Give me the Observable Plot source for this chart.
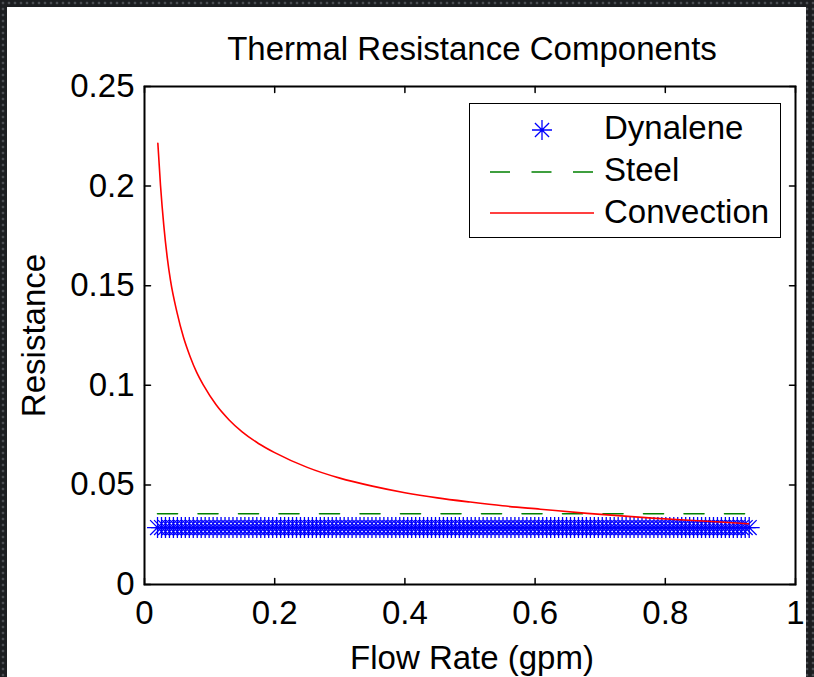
<!DOCTYPE html>
<html>
<head>
<meta charset="utf-8">
<script src="https://cdn.jsdelivr.net/npm/d3@7"></script>
<script src="https://cdn.jsdelivr.net/npm/@observablehq/plot@0.6"></script>
<style>
  html, body { margin: 0; padding: 0; }
  body {
    width: 814px; height: 677px; overflow: hidden;
    background-color: #1c1e21;
    background-image: radial-gradient(circle, #4b4e53 1.1px, transparent 1.7px);
    background-size: 6px 6px;
    font-family: "Liberation Sans", Arial, Helvetica, sans-serif;
  }
  #panel { position: absolute; left: 7px; top: 7px; width: 799px; height: 670px; background: #ffffff; }
  #chart { position: absolute; left: 0; top: 0; }
  #legend { position: absolute; left: 469px; top: 103px; width: 310px; height: 133px;
            border: 1.5px solid #000; background: #fff; }
</style>
</head>
<body>
<div id="panel"></div>
<div id="chart"></div>
<div id="legend"></div>
<script>
// ---- data ----
const titleText = "Thermal Resistance Components";
const xLabelText = "Flow Rate (gpm)";
const yLabelText = "Resistance";
const seriesNames = ["Dynalene", "Steel", "Convection"];

const xTicks = [0, 0.2, 0.4, 0.6, 0.8, 1];
const xTickLabels = ["0", "0.2", "0.4", "0.6", "0.8", "1"];
const yTicks = [0, 0.05, 0.1, 0.15, 0.2, 0.25];
const yTickLabels = ["0", "0.05", "0.1", "0.15", "0.2", "0.25"];

// flow rates of the Dynalene markers (gpm)
const flowRate = [
  0.0200,0.0261,0.0322,0.0383,0.0444,0.0505,0.0566,0.0627,0.0688,0.0749,
  0.0810,0.0871,0.0932,0.0993,0.1054,0.1115,0.1176,0.1237,0.1298,0.1359,
  0.1420,0.1481,0.1542,0.1603,0.1664,0.1725,0.1786,0.1847,0.1908,0.1969,
  0.2030,0.2091,0.2152,0.2213,0.2274,0.2335,0.2396,0.2457,0.2518,0.2579,
  0.2640,0.2701,0.2762,0.2823,0.2884,0.2945,0.3006,0.3067,0.3128,0.3189,
  0.3250,0.3311,0.3372,0.3433,0.3494,0.3555,0.3616,0.3677,0.3738,0.3799,
  0.3860,0.3921,0.3982,0.4043,0.4104,0.4165,0.4226,0.4287,0.4348,0.4409,
  0.4470,0.4531,0.4592,0.4653,0.4714,0.4775,0.4836,0.4897,0.4958,0.5019,
  0.5080,0.5141,0.5202,0.5263,0.5324,0.5385,0.5446,0.5507,0.5568,0.5629,
  0.5690,0.5751,0.5812,0.5873,0.5934,0.5995,0.6056,0.6117,0.6178,0.6239,
  0.6300,0.6361,0.6422,0.6483,0.6544,0.6605,0.6666,0.6727,0.6788,0.6849,
  0.6910,0.6971,0.7032,0.7093,0.7154,0.7215,0.7276,0.7337,0.7398,0.7459,
  0.7520,0.7581,0.7642,0.7703,0.7764,0.7825,0.7886,0.7947,0.8008,0.8069,
  0.8130,0.8191,0.8252,0.8313,0.8374,0.8435,0.8496,0.8557,0.8618,0.8679,
  0.8740,0.8801,0.8862,0.8923,0.8984,0.9045,0.9106,0.9167,0.9228,0.9289
];
const dynaleneResistance = 0.0286;   // constant
const steelResistance = 0.0355;      // constant

// convection resistance curve (read points)
const convectionFlow = [0.0205,0.0246,0.0297,0.0350,0.0400,0.0500,0.0600,0.0700,0.0800,0.0910,
                        0.1100,0.1300,0.1500,0.1750,0.2000,0.2500,0.3000,0.3500,0.4000,0.4500,
                        0.5000,0.5500,0.6080,0.6800,0.7800,0.8850,0.9280];
const convectionR    = [0.2215,0.2003,0.1800,0.1640,0.1525,0.1365,0.1240,0.1145,0.1066,0.0998,
                        0.0902,0.0826,0.0766,0.0708,0.0662,0.0588,0.0534,0.0494,0.0461,0.0435,
                        0.0414,0.0395,0.0378,0.0357,0.0333,0.0314,0.0305];

// ---- tables built from the arrays ----
const dynalene = flowRate.map(f => ({flow: f, R: dynaleneResistance}));
const steel = flowRate.map(f => ({flow: f, R: steelResistance}));
const convection = convectionFlow.map((f, i) => ({flow: f, R: convectionR[i]}));

// MATLAB-like asterisk (plus + x)
const asterisk = {
  draw(context, size) {
    const r = Math.sqrt(size / Math.PI);
    const d = r * Math.SQRT1_2;
    context.moveTo(0, -r); context.lineTo(0, r);
    context.moveTo(-r, 0); context.lineTo(r, 0);
    context.moveTo(-d, -d); context.lineTo(d, d);
    context.moveTo(-d, d); context.lineTo(d, -d);
  }
};
const tickShape = { draw(context, l) { context.moveTo(0, 0); context.lineTo(0, -l); } };

const font = "Liberation Sans, Arial, Helvetica, sans-serif";

const chart = Plot.plot({
  width: 814,
  height: 677,
  marginLeft: 144,
  marginRight: 19,
  marginTop: 86,
  marginBottom: 93,
  style: {background: "transparent", fontFamily: font, fontSize: "33px", color: "#000", overflow: "visible"},
  x: {domain: [0, 1]},
  y: {domain: [0, 0.25]},
  marks: [
    Plot.dot(dynalene, {x: "flow", y: "R", r: 10.5, symbol: asterisk, stroke: "#0000ff", strokeWidth: 1.3, fill: "none"}),
    Plot.line(steel, {x: "flow", y: "R", stroke: "#008000", strokeWidth: 1.6, strokeDasharray: "20,20.5"}),
    Plot.line(convection, {x: "flow", y: "R", stroke: "#ff0000", strokeWidth: 1.6, curve: "monotone-x"}),
    Plot.frame({stroke: "#000", strokeWidth: 2}),
    Plot.vector(xTicks, {x: d => d, frameAnchor: "bottom", length: 6, rotate: 0, anchor: "start", shape: tickShape, stroke: "#000", strokeWidth: 1.5}),
    Plot.vector(xTicks, {x: d => d, frameAnchor: "top", length: 6, rotate: 180, anchor: "start", shape: tickShape, stroke: "#000", strokeWidth: 1.5}),
    Plot.vector(yTicks, {y: d => d, frameAnchor: "left", length: 6, rotate: 90, anchor: "start", shape: tickShape, stroke: "#000", strokeWidth: 1.5}),
    Plot.vector(yTicks, {y: d => d, frameAnchor: "right", length: 6, rotate: -90, anchor: "start", shape: tickShape, stroke: "#000", strokeWidth: 1.5}),
    Plot.axisX(xTicks, {tickSize: 0, tickPadding: 16, tickFormat: d => xTickLabels[xTicks.indexOf(d)], fontSize: 33, label: null, fill: "#000"}),
    Plot.axisY(yTicks, {tickSize: 0, tickPadding: 10, tickFormat: d => yTickLabels[yTicks.indexOf(d)], fontSize: 33, label: null, fill: "#000"}),
    Plot.text([titleText], {text: d => d, frameAnchor: "top", lineAnchor: "middle", textAnchor: "middle", dx: 2, dy: -36.6, fontSize: 33, fill: "#000"}),
    Plot.text([xLabelText], {text: d => d, frameAnchor: "bottom", lineAnchor: "middle", textAnchor: "middle", dx: 2, dy: 74.4, fontSize: 33, fill: "#000"}),
    Plot.text([yLabelText], {text: d => d, frameAnchor: "left", lineAnchor: "middle", textAnchor: "middle", dx: -110, rotate: -90, fontSize: 33, fill: "#000"})
  ]
});
document.getElementById("chart").appendChild(chart);

// ---- legend (inside the axes, as in the reference) ----
const ns = "http://www.w3.org/2000/svg";
const lsvg = document.createElementNS(ns, "svg");
lsvg.setAttribute("width", 310); lsvg.setAttribute("height", 133);
lsvg.style.position = "absolute"; lsvg.style.left = "0"; lsvg.style.top = "0";
const ls = d3.select(lsvg);
const rowY = [26, 68, 109];
const baseY = [35, 77, 119];
// Dynalene star
const p = d3.path(); asterisk.draw(p, Math.PI * 10 * 10);
ls.append("path").attr("d", p.toString()).attr("transform", `translate(72,${rowY[0]})`)
  .attr("fill", "none").attr("stroke", "#0000ff").attr("stroke-width", 1.3);
// Steel dashed
ls.append("line").attr("x1", 20).attr("x2", 124).attr("y1", rowY[1]).attr("y2", rowY[1])
  .attr("stroke", "#008000").attr("stroke-width", 1.6).attr("stroke-dasharray", "20,21.5");
// Convection solid
ls.append("line").attr("x1", 20).attr("x2", 124).attr("y1", rowY[2]).attr("y2", rowY[2])
  .attr("stroke", "#ff0000").attr("stroke-width", 1.6);
seriesNames.forEach((name, i) => {
  ls.append("text").attr("x", 134).attr("y", baseY[i]).attr("font-size", 33)
    .attr("font-family", font).attr("fill", "#000").text(name);
});
document.getElementById("legend").appendChild(lsvg);
</script>
</body>
</html>
